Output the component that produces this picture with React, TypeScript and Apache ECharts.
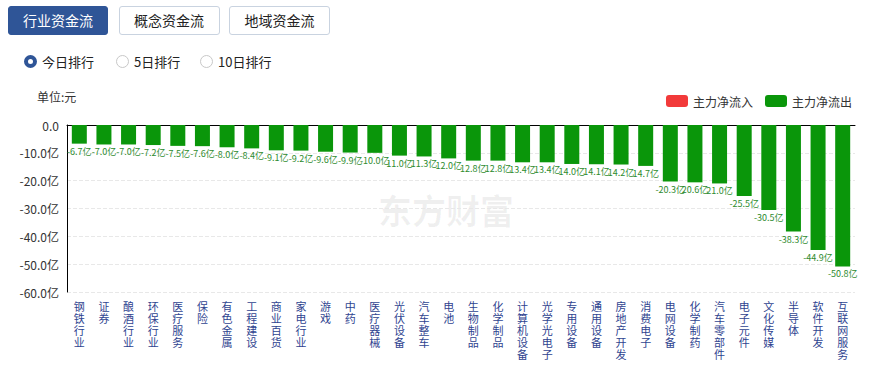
import React, { useEffect, useRef } from "react";
import * as echarts from "echarts";

const categories = [
  "钢铁行业", "证券", "酿酒行业", "环保行业", "医疗服务", "保险", "有色金属", "工程建设",
  "商业百货", "家电行业", "游戏", "中药", "医疗器械", "光伏设备", "汽车整车", "电池",
  "生物制品", "化学制品", "计算机设备", "光学光电子", "专用设备", "通用设备", "房地产开发", "消费电子",
  "电网设备", "化学制药", "汽车零部件", "电子元件", "文化传媒", "半导体", "软件开发", "互联网服务",
];
const outflow = [
  -6.7, -7.0, -7.0, -7.2, -7.5, -7.6, -8.0, -8.4,
  -9.1, -9.2, -9.6, -9.9, -10.0, -11.0, -11.3, -12.0,
  -12.8, -12.8, -13.4, -13.4, -14.0, -14.1, -14.2, -14.7,
  -20.3, -20.6, -21.0, -25.5, -30.5, -38.3, -44.9, -50.8,
];
const inflow = categories.map(() => null as number | null);
const yTicks = { min: -60, max: 0, interval: 10 };
const tabs = ["行业资金流", "概念资金流", "地域资金流"];
const ranks = ["今日排行", "5日排行", "10日排行"];

const FONT = '"Noto Sans CJK SC", "Microsoft YaHei", sans-serif';

function labelText(i: number): string {
  const v = outflow[i];
  const p = i > 0 ? outflow[i - 1] : 0;
  const drop = i > 0 && Math.abs(p) >= 10 && Math.abs(v - p) < 2;
  return (drop ? Math.abs(v).toFixed(1) : v.toFixed(1)) + "亿";
}

function Chart() {
  const ref = useRef<HTMLDivElement>(null);
  useEffect(() => {
    if (!ref.current) return;
    const chart = echarts.init(ref.current, undefined, { renderer: "svg" });
    chart.setOption({
      animation: false,
      textStyle: { fontFamily: FONT },
      graphic: [
        {
          type: "text",
          left: 37,
          top: 10,
          style: { text: "单位:元", fontSize: 12, fill: "#333", fontFamily: FONT },
        },
        {
          type: "text",
          left: 378,
          top: 112,
          z: -1,
          style: {
            text: "东方财富",
            fontSize: 34,
            fontWeight: "bold",
            fill: "rgba(0,0,0,0.06)",
            fontFamily: FONT,
          },
        },
      ],
      legend: {
        right: 12,
        top: 10,
        itemWidth: 22,
        itemHeight: 12,
        itemGap: 12,
        textStyle: { fontSize: 12, color: "#333", fontFamily: FONT },
        data: [
          { name: "主力净流入", itemStyle: { color: "#f23a3a" } },
          { name: "主力净流出", itemStyle: { color: "#0a960a" } },
        ],
      },
      grid: { left: 67, right: 14, top: 45, bottom: 77 },
      xAxis: [
        {
          type: "category",
          data: categories,
          position: "bottom",
          axisLine: { show: false },
          axisTick: { show: false },
          axisLabel: {
            interval: 0,
            margin: 8,
            fontSize: 11,
            lineHeight: 12,
            color: "#2f4490",
            fontFamily: FONT,
            formatter: (s: string) => s.split("").join("\n"),
          },
        },
        {
          type: "category",
          data: categories,
          position: "top",
          axisLine: { show: true, lineStyle: { color: "#000", width: 1 } },
          axisTick: { show: false },
          axisLabel: { show: false },
        },
      ],
      yAxis: {
        type: "value",
        min: yTicks.min,
        max: yTicks.max,
        interval: yTicks.interval,
        axisLine: { show: true, lineStyle: { color: "#000" } },
        axisTick: { show: false },
        axisLabel: {
          fontSize: 12,
          color: "#333",
          fontFamily: FONT,
          formatter: (v: number) => (v === 0 ? "0.0" : v.toFixed(1) + "亿"),
        },
        splitLine: { show: true, lineStyle: { color: "#e8e8e8", type: "dashed" } },
      },
      series: [
        {
          name: "主力净流入",
          type: "bar",
          stack: "flow",
          data: inflow,
          itemStyle: { color: "#f23a3a" },
        },
        {
          name: "主力净流出",
          type: "bar",
          stack: "flow",
          data: outflow,
          barWidth: 15,
          itemStyle: { color: "#0a960a" },
          label: {
            show: true,
            position: "bottom",
            distance: 3,
            fontSize: 9,
            color: "#2e8b2e",
            fontFamily: FONT,
            formatter: (p: any) => labelText(p.dataIndex),
          },
        },
      ],
    });
    return () => chart.dispose();
  }, []);
  return <div ref={ref} style={{ position: "absolute", left: 0, top: 80, width: 869, height: 289 }} />;
}

export default function App() {
  return (
    <div
      style={{
        position: "absolute",
        left: 0,
        top: 0,
        width: 869,
        height: 369,
        background: "#fff",
        fontFamily: FONT,
        overflow: "hidden",
      }}
    >
      {tabs.map((t, i) => (
        <div
          key={t}
          style={{
            position: "absolute",
            left: 8 + i * 110.5,
            top: 6,
            width: i === 0 ? 100 : 101,
            height: 29,
            boxSizing: "border-box",
            border: i === 0 ? "1px solid #2f5597" : "1px solid #c9d3e0",
            borderRadius: 3,
            background: i === 0 ? "#2f5597" : "#fff",
            color: i === 0 ? "#fff" : "#222",
            fontSize: 14,
            lineHeight: "27px",
            textAlign: "center",
          }}
        >
          {t}
        </div>
      ))}
      {ranks.map((r, i) => {
        const left = [24, 116, 200][i];
        return (
          <div
            key={r}
            style={{ position: "absolute", left, top: 52, height: 18, display: "flex", alignItems: "center" }}
          >
            <span
              style={{
                display: "inline-block",
                width: 13,
                height: 13,
                boxSizing: "border-box",
                borderRadius: "50%",
                border: i === 0 ? "4px solid #2f5597" : "1px solid #c8c8c8",
                background: "#fff",
                marginRight: 5,
              }}
            />
            <span style={{ fontSize: 13, color: "#222" }}>{r}</span>
          </div>
        );
      })}
      <Chart />
    </div>
  );
}
